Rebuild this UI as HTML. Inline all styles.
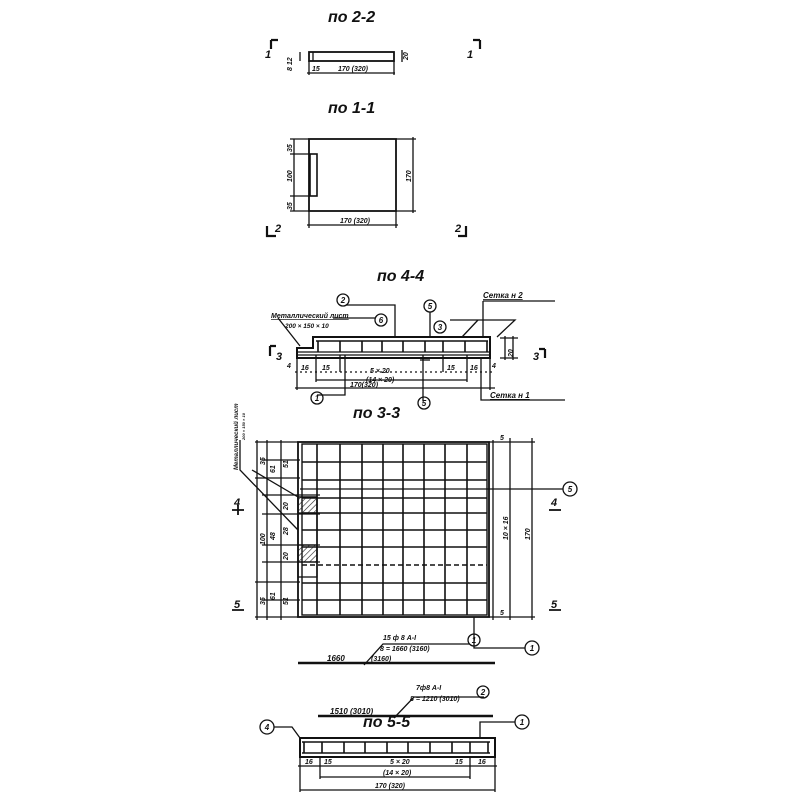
<!DOCTYPE html>
<html><head><meta charset="utf-8"><style>
html,body{margin:0;padding:0;background:#fff;width:800px;height:800px;overflow:hidden}
svg{display:block}
text{font-family:"Liberation Sans","DejaVu Sans",sans-serif;font-style:italic;fill:#111;font-weight:bold}
</style></head><body>
<svg width="800" height="800" viewBox="0 0 800 800" xmlns="http://www.w3.org/2000/svg">
<defs>
<pattern id="h" width="4" height="4" patternUnits="userSpaceOnUse" patternTransform="rotate(45)">
<line x1="0" y1="0" x2="0" y2="4" stroke="#222" stroke-width="1.2"/></pattern>
</defs>
<g stroke="#111" fill="none" stroke-width="1.3">
<!-- 2-2 -->
<rect x="309" y="52" width="85" height="9" stroke-width="1.8"/>
<line x1="313" y1="52" x2="313" y2="61"/>
<line x1="307" y1="73" x2="395" y2="73"/>
<line x1="309" y1="61" x2="309" y2="75"/><line x1="394" y1="61" x2="394" y2="75"/>
<line x1="402" y1="50" x2="402" y2="62"/>
<line x1="300" y1="52" x2="300" y2="61"/>
<path d="M271 40 L271 49 M271 40 L278 40" stroke-width="2.2"/>
<path d="M480 40 L480 49 M473 40 L480 40" stroke-width="2.2"/>
<!-- 1-1 -->
<rect x="309" y="139" width="87" height="72" stroke-width="1.8"/>
<rect x="310" y="154" width="7" height="42" stroke-width="1.6"/>
<line x1="294" y1="139" x2="294" y2="211"/>
<line x1="290" y1="139" x2="309" y2="139"/><line x1="290" y1="154" x2="310" y2="154"/><line x1="290" y1="196" x2="310" y2="196"/><line x1="290" y1="211" x2="309" y2="211"/>
<line x1="413" y1="137" x2="413" y2="213"/><line x1="396" y1="139" x2="416" y2="139"/><line x1="396" y1="211" x2="416" y2="211"/>
<line x1="307" y1="225" x2="398" y2="225"/>
<line x1="309" y1="211" x2="309" y2="228"/><line x1="396" y1="211" x2="396" y2="228"/>
<path d="M267 226 L267 236 L276 236" stroke-width="2.2"/>
<path d="M466 226 L466 236 L458 236" stroke-width="2.2"/>
<!-- 4-4 -->
<path d="M297 358 L297 348 L313 348 L313 337 L490 337 L490 358 Z" stroke-width="2"/>
<line x1="297" y1="352" x2="490" y2="352"/><line x1="297" y1="355" x2="490" y2="355"/>
<line x1="316" y1="341" x2="488" y2="341" stroke-width="1.5"/>
<g stroke-width="1.6">
<path d="M318 341 V352 M340 341 V352 M362 341 V352 M382 341 V352 M403 341 V352 M425 341 V352 M443 341 V352 M465 341 V352 M487 341 V352"/>
</g>
<path d="M270 346 L270 356 M270 346 L276 346" stroke-width="2.2"/>
<path d="M545 349 L545 358 M539 349 L545 349" stroke-width="2.2"/>
<line x1="295" y1="388" x2="495" y2="388"/>
<line x1="316" y1="380" x2="467" y2="380"/>
<line x1="297" y1="358" x2="297" y2="390"/><line x1="316" y1="355" x2="316" y2="382"/>
<line x1="340" y1="355" x2="340" y2="372"/><line x1="443" y1="355" x2="443" y2="372"/>
<line x1="467" y1="355" x2="467" y2="382"/><line x1="490" y1="358" x2="490" y2="390"/>
<line x1="295" y1="372" x2="495" y2="372" stroke-dasharray="2 3"/>
<polyline points="317,395 345,395 345,355"/>
<polyline points="346,305 395,305 395,337"/>
<polyline points="430,312 430,337"/>
<polyline points="423,401 423,355"/>
<polyline points="430,360 420,360"/>
<polyline points="333,318 375,318"/>
<polyline points="278,318 300,346"/>
<line x1="483" y1="301" x2="555" y2="301"/>
<polyline points="483,301 483,337"/>
<polyline points="450,320 515,320 497,337"/>
<line x1="478" y1="320" x2="462" y2="337"/>
<line x1="500" y1="338" x2="518" y2="338"/><line x1="500" y1="358" x2="518" y2="358"/>
<line x1="513" y1="336" x2="513" y2="360"/><line x1="505" y1="336" x2="505" y2="360"/>
<polyline points="481,358 481,400 565,400"/>
<circle cx="343" cy="300" r="6"/><circle cx="430" cy="306" r="6"/><circle cx="440" cy="327" r="6"/>
<circle cx="381" cy="320" r="6"/><circle cx="317" cy="398" r="6"/><circle cx="424" cy="403" r="6"/>
<!-- 3-3 -->
<rect x="298" y="442" width="191" height="175" stroke-width="1.8"/>
<rect x="302" y="444" width="185" height="171" stroke-width="1.4"/>
<g stroke-width="1.6">
<path d="M317 444V615 M340 444V615 M362 444V615 M383 444V615 M403 444V615 M424 444V615 M445 444V615 M467 444V615"/>
<path d="M302 462H487 M302 480H487 M302 498H487 M302 513H487 M302 530H487 M302 547H487 M302 583H487 M302 600H487"/>
</g>
<line x1="302" y1="565" x2="487" y2="565" stroke-dasharray="5 3" stroke-width="1.6"/>
<rect x="298" y="497" width="19" height="16" fill="url(#h)"/>
<rect x="298" y="545" width="19" height="17" fill="url(#h)"/>
<rect x="298" y="497" width="19" height="80"/>
<line x1="257" y1="440" x2="257" y2="620"/><line x1="267" y1="440" x2="267" y2="620"/><line x1="281" y1="440" x2="281" y2="620"/>
<line x1="255" y1="442" x2="298" y2="442"/><line x1="255" y1="478" x2="300" y2="478"/>
<line x1="262" y1="495" x2="320" y2="495"/><line x1="262" y1="514" x2="320" y2="514"/>
<line x1="262" y1="545" x2="320" y2="545"/><line x1="262" y1="562" x2="320" y2="562"/>
<line x1="255" y1="582" x2="300" y2="582"/><line x1="255" y1="617" x2="298" y2="617"/>
<line x1="262" y1="460" x2="300" y2="460"/><line x1="262" y1="600" x2="300" y2="600"/>
<line x1="493" y1="440" x2="493" y2="620"/><line x1="510" y1="438" x2="510" y2="620"/><line x1="532" y1="438" x2="532" y2="620"/>
<line x1="489" y1="442" x2="535" y2="442"/><line x1="489" y1="617" x2="535" y2="617"/>
<line x1="300" y1="489" x2="563" y2="489"/>
<circle cx="570" cy="489" r="7"/>
<polyline points="474,617 474,648 525,648"/>
<circle cx="532" cy="648" r="7"/>
<polyline points="240,440 240,470 298,530"/>
<line x1="252" y1="470" x2="298" y2="497"/>
<path d="M232 510 H244 M238 505 V515" stroke-width="1.8"/>
<path d="M549 510 H561" stroke-width="1.8"/>
<path d="M232 610 H244 M549 610 H561" stroke-width="1.8"/>
<!-- bars -->
<line x1="298" y1="663" x2="495" y2="663" stroke-width="2.4"/>
<polyline points="364,665 383,644 470,644"/>
<circle cx="474" cy="640" r="6"/>
<line x1="318" y1="716" x2="493" y2="716" stroke-width="2.4"/>
<polyline points="394,718 414,697 484,697"/>
<circle cx="483" cy="692" r="6"/>
<!-- 5-5 -->
<rect x="300" y="738" width="195" height="19" stroke-width="2"/>
<line x1="302" y1="742" x2="490" y2="742" stroke-width="1.5"/>
<line x1="302" y1="753" x2="490" y2="753" stroke-width="1.5"/>
<path d="M304 742V753 M322 742V753 M344 742V753 M365 742V753 M387 742V753 M408 742V753 M430 742V753 M452 742V753 M470 742V753 M488 742V753" stroke-width="1.6"/>
<line x1="298" y1="766" x2="497" y2="766"/>
<line x1="320" y1="777" x2="470" y2="777"/>
<line x1="300" y1="790" x2="495" y2="790"/>
<line x1="300" y1="757" x2="300" y2="792"/><line x1="320" y1="757" x2="320" y2="779"/>
<line x1="470" y1="757" x2="470" y2="779"/><line x1="495" y1="757" x2="495" y2="792"/>
<polyline points="274,727 292,727 300,738"/>
<circle cx="267" cy="727" r="7"/>
<polyline points="480,738 480,722 515,722"/>
<circle cx="522" cy="722" r="7"/>
</g>
<g font-size="16">
<text x="328" y="22">по 2-2</text>
<text x="328" y="113">по 1-1</text>
<text x="377" y="281">по 4-4</text>
<text x="353" y="418">по 3-3</text>
<text x="363" y="727">по 5-5</text>
</g>
<g font-size="11">
<text x="265" y="58">1</text><text x="467" y="58">1</text>
<text x="275" y="232">2</text><text x="455" y="232">2</text>
<text x="276" y="360">3</text><text x="533" y="360">3</text>
<text x="234" y="506">4</text><text x="551" y="506">4</text>
<text x="234" y="608">5</text><text x="551" y="608">5</text>
</g>
<g font-size="7">
<text x="338" y="71">170 (320)</text><text x="312" y="71">15</text>
<text x="340" y="223">170 (320)</text>
<text transform="translate(292 71) rotate(-90)">8 12</text>
<text transform="translate(408 60) rotate(-90)">20</text>
<text transform="translate(292 152) rotate(-90)">35</text>
<text transform="translate(292 182) rotate(-90)">100</text>
<text transform="translate(292 210) rotate(-90)">35</text>
<text transform="translate(411 182) rotate(-90)">170</text>
<text x="271" y="318" text-decoration="underline">Металлический лист</text>
<text x="285" y="328" font-size="6.5">200 × 150 × 10</text>
<text x="483" y="298" text-decoration="underline" font-size="8">Сетка н 2</text>
<text x="490" y="398" text-decoration="underline" font-size="8">Сетка н 1</text>
<text x="301" y="370">16</text><text x="322" y="370">15</text><text x="447" y="370">15</text><text x="470" y="370">16</text>
<text x="287" y="368">4</text><text x="492" y="368">4</text>
<text x="370" y="373">5 × 20</text><text x="366" y="382">(14 × 20)</text><text x="350" y="387">170(320)</text>
<text transform="translate(513 357) rotate(-90)">20</text>
<text transform="translate(238 470) rotate(-90)" font-size="6">Металлический лист</text>
<text transform="translate(245 440) rotate(-90)" font-size="4">200 × 150 × 10</text>
<text transform="translate(265 465) rotate(-90)">35</text><text transform="translate(275 473) rotate(-90)">61</text><text transform="translate(288 468) rotate(-90)">51</text>
<text transform="translate(288 510) rotate(-90)">20</text><text transform="translate(275 540) rotate(-90)">48</text><text transform="translate(288 535) rotate(-90)">28</text>
<text transform="translate(288 560) rotate(-90)">20</text><text transform="translate(265 545) rotate(-90)">100</text>
<text transform="translate(265 605) rotate(-90)">35</text><text transform="translate(275 600) rotate(-90)">61</text><text transform="translate(288 605) rotate(-90)">51</text>
<text transform="translate(508 540) rotate(-90)">10 × 16</text><text transform="translate(530 540) rotate(-90)">170</text>
<text x="500" y="440">5</text><text x="500" y="615">5</text>
<text x="383" y="640">15 ф 8 А-I</text>
<text x="380" y="651">8 = 1660 (3160)</text>
<text x="371" y="661">(3160)</text>
<text x="327" y="661" font-size="8">1660</text>
<text x="416" y="690">7ф8 А-I</text>
<text x="410" y="701">8 = 1210 (3010)</text>
<text x="330" y="714" font-size="8">1510 (3010)</text>
<text x="305" y="764">16</text><text x="324" y="764">15</text><text x="390" y="764">5 × 20</text><text x="455" y="764">15</text><text x="478" y="764">16</text>
<text x="383" y="775">(14 × 20)</text><text x="375" y="788">170 (320)</text>
</g>
<g font-size="8" text-anchor="middle">
<text x="343" y="303">2</text><text x="430" y="309">5</text><text x="440" y="330">3</text><text x="381" y="323">6</text>
<text x="317" y="401">1</text><text x="424" y="406">5</text><text x="570" y="492">5</text><text x="532" y="651">1</text>
<text x="474" y="643">1</text><text x="483" y="695">2</text><text x="267" y="730">4</text><text x="522" y="725">1</text>
</g>
</svg>
</body></html>
